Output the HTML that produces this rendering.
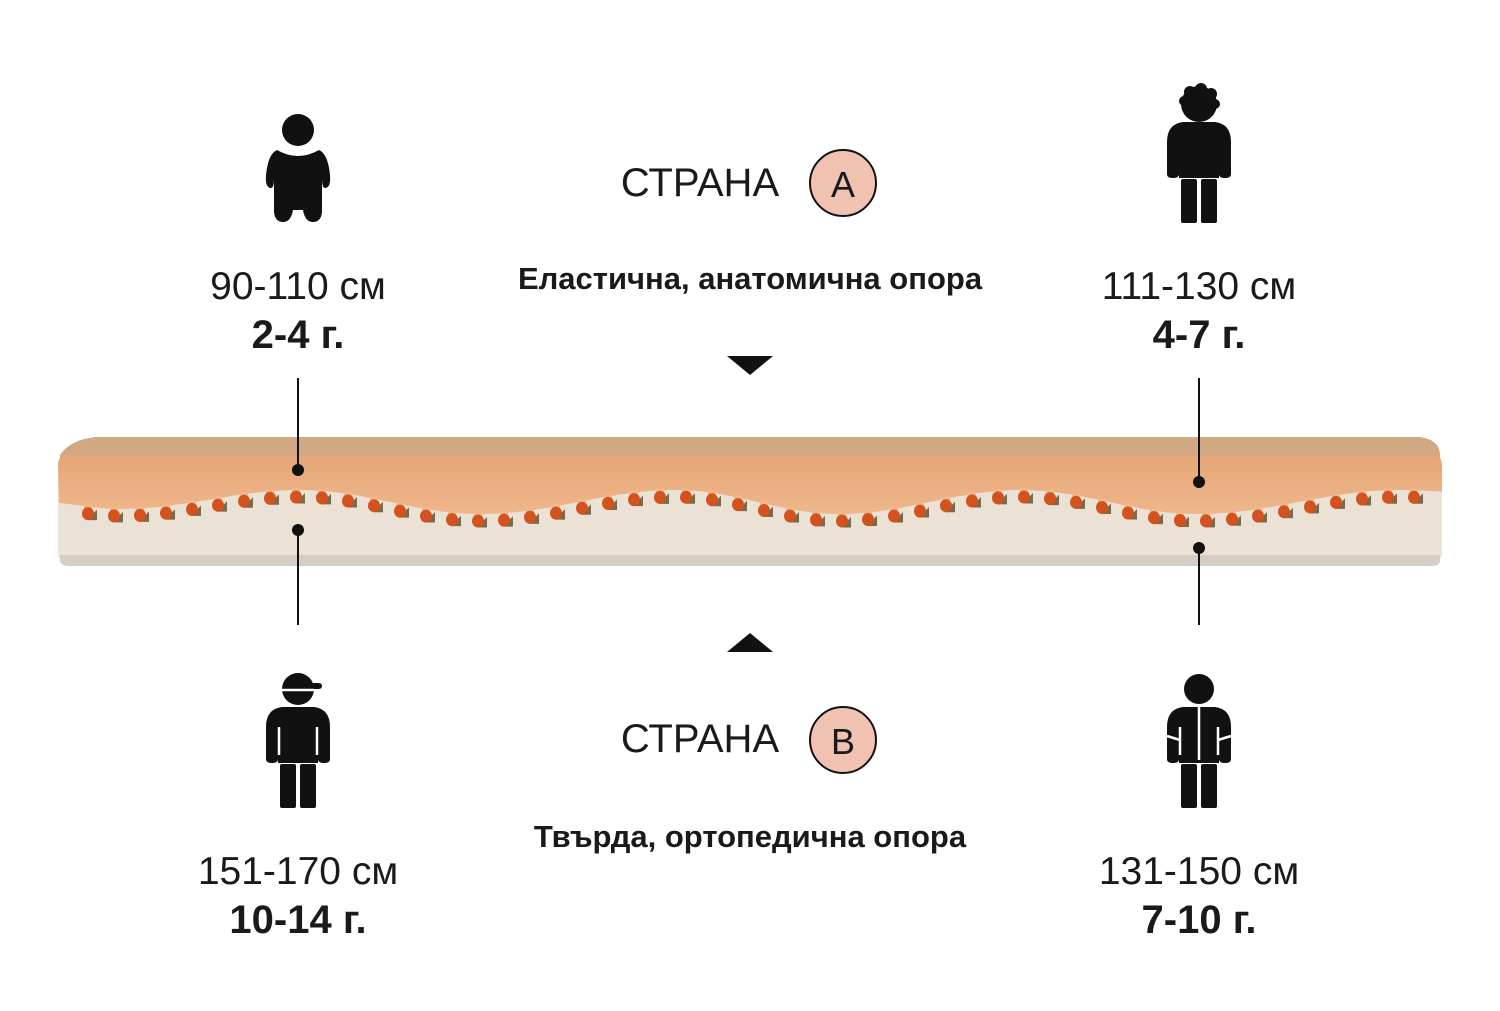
<!DOCTYPE html>
<html><head><meta charset="utf-8"><style>
html,body{margin:0;padding:0;background:#fff}
svg{display:block}
text{font-family:"Liberation Sans","DejaVu Sans",sans-serif;fill:#1a1a1a}
</style></head><body>
<svg id="s" width="1500" height="1011" viewBox="0 0 1500 1011" xmlns="http://www.w3.org/2000/svg">
<defs>
<g id="kid">
 <path d="M-16 0 L16 0 Q32 2 32 20 L32 52 Q32 56 26 56 Q20 56 20 52 L20 56 L-20 56 L-20 52 Q-20 56 -26 56 Q-32 56 -32 52 L-32 20 Q-32 2 -16 0Z"/>
 <rect x="-18" y="57" width="16" height="44" rx="2"/>
 <rect x="2" y="57" width="16" height="44" rx="2"/>
</g>
<linearGradient id="og" x1="0" y1="0" x2="0" y2="1"><stop offset="0" stop-color="#e5a676"/><stop offset="1" stop-color="#efb78c"/></linearGradient>
</defs>
<!-- figures -->
<g fill="#111">
 <circle cx="298" cy="130" r="16"/>
 <path d="M277 150 Q298 162 319 150 Q328 154 330 175 Q331 188 325 188 Q322 188 322 178 L322 212 Q321 222 313 222 Q305 222 303 210 L293 210 Q291 222 283 222 Q275 222 274 212 L274 178 Q274 188 271 188 Q265 188 266 175 Q268 154 277 150Z"/>
 <circle cx="1199" cy="104" r="18"/>
 <circle cx="1190" cy="92" r="6"/><circle cx="1201" cy="89" r="6"/><circle cx="1211" cy="94" r="6"/><circle cx="1184" cy="101" r="5"/><circle cx="1215" cy="104" r="5"/>
 <use href="#kid" x="1199" y="122"/>
 <circle cx="298" cy="689" r="16"/>
 <rect x="298" y="683" width="24" height="6" rx="3"/>
 <use href="#kid" x="298" y="707"/>
 <circle cx="1199" cy="689" r="15"/>
 <use href="#kid" x="1199" y="707"/>
</g>
<g stroke="#fff" stroke-width="2.5" fill="none">
 <line x1="282" y1="690" x2="314" y2="690"/>
 <line x1="279" y1="727" x2="279" y2="755"/><line x1="317" y1="727" x2="317" y2="755"/>
 <line x1="1180" y1="727" x2="1180" y2="755"/><line x1="1218" y1="727" x2="1218" y2="755"/>
 <line x1="1199" y1="707" x2="1199" y2="760"/>
 <line x1="1167" y1="736" x2="1180" y2="740"/><line x1="1231" y1="736" x2="1218" y2="740"/>
</g>
<!-- texts -->
<text x="700" y="196" font-size="40" text-anchor="middle">СТРАНА</text>
<circle cx="843" cy="183" r="33" fill="#f1c2b1" stroke="#111" stroke-width="2"/>
<text x="843" y="197" font-size="36" text-anchor="middle">A</text>
<text x="750" y="289" font-size="31" font-weight="bold" text-anchor="middle" fill="#222">Еластична, анатомична опора</text>
<text x="700" y="752" font-size="40" text-anchor="middle">СТРАНА</text>
<circle cx="843" cy="740" r="33" fill="#f1c2b1" stroke="#111" stroke-width="2"/>
<text x="843" y="754" font-size="36" text-anchor="middle">B</text>
<text x="750" y="847" font-size="31" font-weight="bold" text-anchor="middle" fill="#222">Твърда, ортопедична опора</text>
<g font-size="39" text-anchor="middle">
<text x="298" y="299">90-110 см</text>
<text x="298" y="348" font-weight="bold" font-size="40">2-4 г.</text>
<text x="1199" y="299">111-130 см</text>
<text x="1199" y="348" font-weight="bold" font-size="40">4-7 г.</text>
<text x="298" y="884">151-170 см</text>
<text x="298" y="933" font-weight="bold" font-size="40">10-14 г.</text>
<text x="1199" y="884">131-150 см</text>
<text x="1199" y="933" font-weight="bold" font-size="40">7-10 г.</text>
</g>
<polygon points="727,356 773,356 750,375" fill="#111"/>
<polygon points="727,652 773,652 750,633" fill="#111"/>
<!-- mattress -->
<path d="M95 437 L1420 437 Q1440 440 1440 455 L1440 470 L60 470 L60 455 Q70 440 95 437Z" fill="#d0a881"/>
<rect x="58" y="455" width="1384" height="108" rx="10" fill="#ebe1d5"/>
<path id="orange" fill="url(#og)"/>
<g id="bumps"></g>
<path d="M60 555 L1440 555 L1440 561 Q1440 566 1430 566 L70 566 Q60 566 60 560Z" fill="#d6cdc3"/>
<!-- connectors -->
<g stroke="#111" stroke-width="2">
<line x1="298" y1="378" x2="298" y2="470"/><line x1="298" y1="530" x2="298" y2="625"/>
<line x1="1199" y1="378" x2="1199" y2="482"/><line x1="1199" y1="548" x2="1199" y2="625"/>
</g>
<g fill="#111"><circle cx="298" cy="470" r="6"/><circle cx="298" cy="530" r="6"/><circle cx="1199" cy="482" r="6"/><circle cx="1199" cy="548" r="6"/></g>
</svg>
<script>
var P=[[40,515],[120,522],[300,503],[480,527],[676,503],[839,527],[1021,503],[1197,527],[1400,503],[1460,505]];
function w(x){for(var i=0;i<P.length-1;i++){var a=P[i],b=P[i+1];if(x>=a[0]&&x<=b[0]){var t=(x-a[0])/(b[0]-a[0]);var s=(1-Math.cos(Math.PI*t))/2;return a[1]+(b[1]-a[1])*s;}}return 515;}
var d="M68 455 L1432 455 Q1442 455 1442 465 L1442 "+(w(1442)-12).toFixed(1);
for(var x=1442;x>=58;x-=3){d+=" L"+x+" "+(w(x)-13).toFixed(1);}
d+=" L58 465 Q58 455 68 455Z";
document.getElementById("orange").setAttribute("d",d);
var g="";
for(var x=88;x<1440;x+=26){var y=w(x);
g+='<path d="M'+(x-1)+' '+(y+0.5)+' L'+(x+9)+' '+(y+0.5)+' L'+(x+9)+' '+(y-10)+'Z" fill="#7a6a4c"/>';
g+='<rect x="'+(x-4)+'" y="'+(y-15).toFixed(1)+'" width="8" height="8" fill="#efb78c"/>';
g+='<ellipse cx="'+x+'" cy="'+(y-6).toFixed(1)+'" rx="6" ry="6.5" fill="#d4521d"/>';}
document.getElementById("bumps").innerHTML=g;
</script>
</body></html>
